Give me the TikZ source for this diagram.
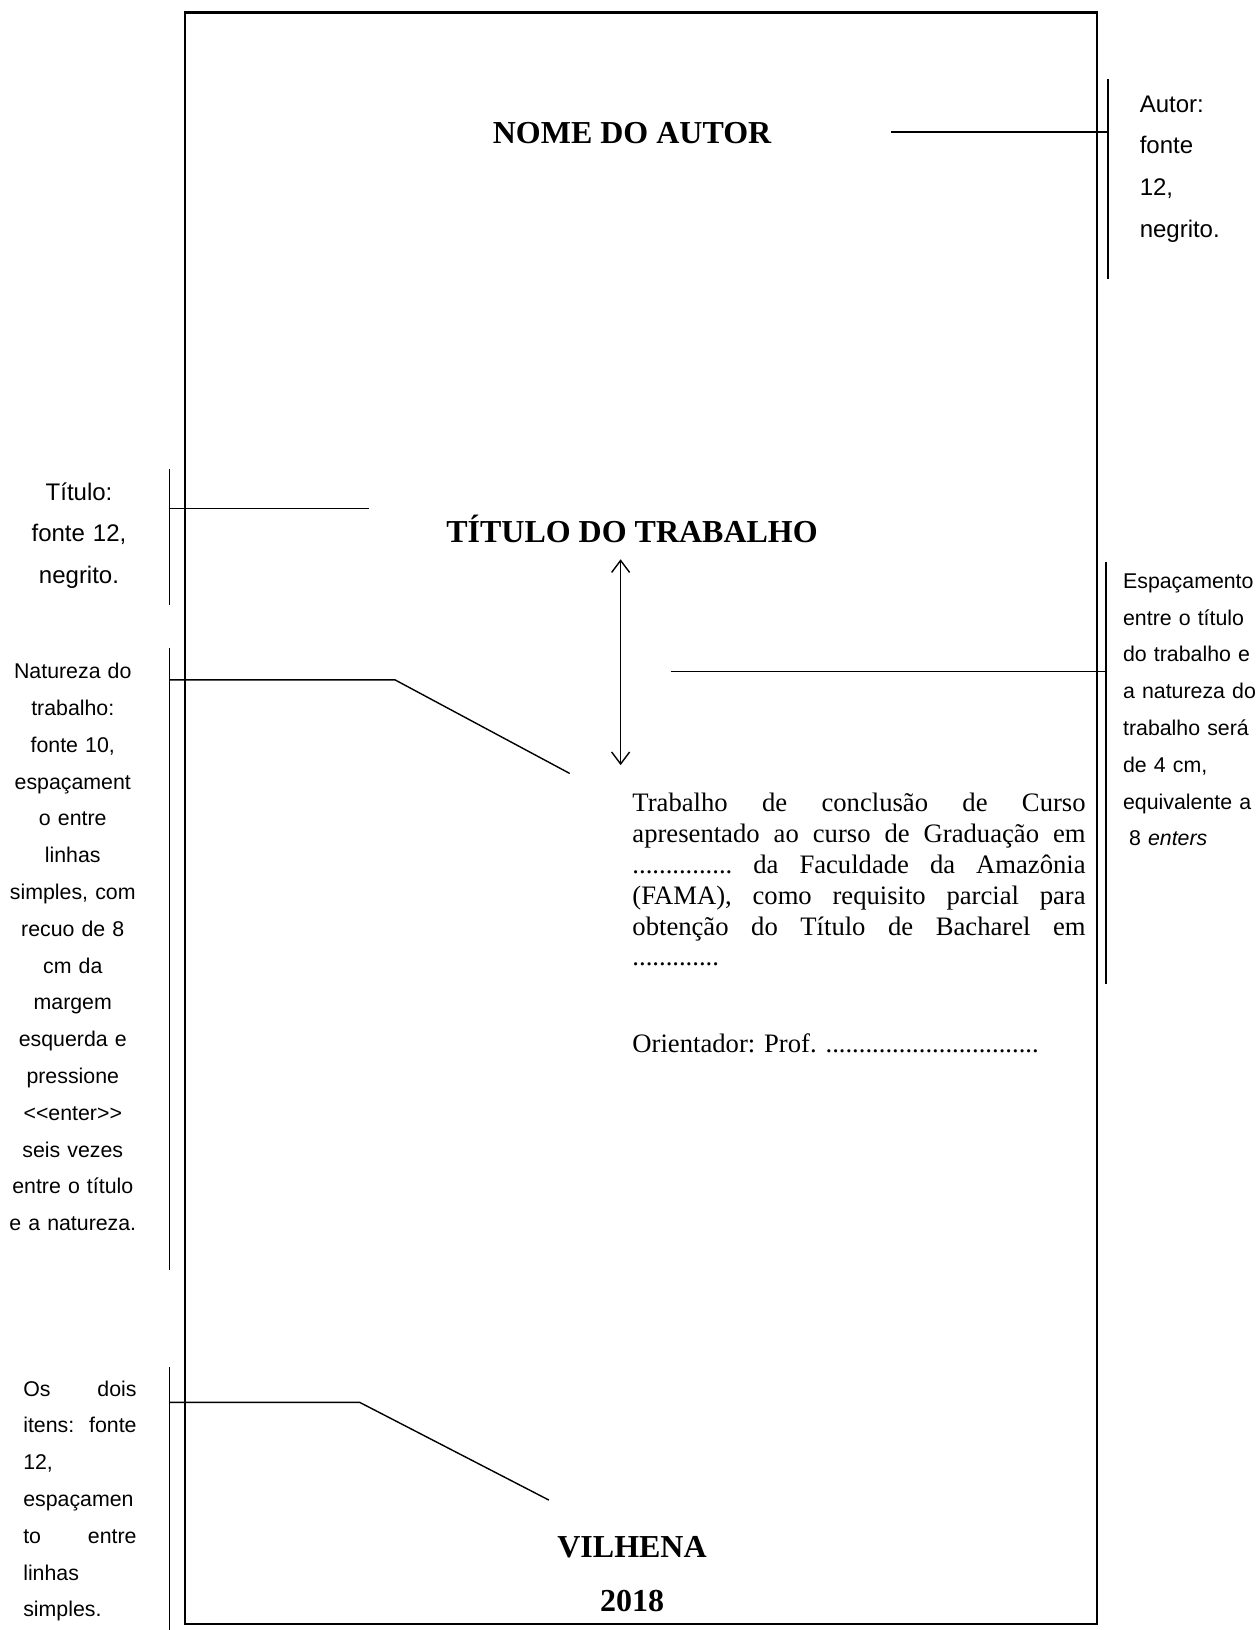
\documentclass[tikz,border=0pt]{standalone}
\usepackage{fontspec}
\setmainfont{Liberation Serif}
\setsansfont{Liberation Sans}
\usetikzlibrary{arrows.meta}
\newlength{\bodyw}\setlength{\bodyw}{226.7pt}
\newlength{\itensw}\setlength{\itensw}{56.7pt}
\begin{document}
\begin{tikzpicture}[x=0.52pt,y=-0.52pt,
  pageframe/.style={line width=1.1pt},
  bracket/.style={line width=0.9pt},
  leader/.style={line width=0.7pt},
  heading/.style={font=\fontsize{16}{19}\selectfont\bfseries, inner sep=0pt, anchor=base},
  note/.style={font=\sffamily\fontsize{10.67}{18.4}\selectfont, inner sep=0pt},
  bignote/.style={font=\sffamily\fontsize{12}{20.8}\selectfont, inner sep=0pt},
  body/.style={font=\fontsize{13.33}{15.4}\selectfont, inner sep=0pt, anchor=base west}]
\useasboundingbox (0,0) rectangle (1210,1568);
\draw[pageframe] (178,12) rectangle (1055,1562);

% headings
\node[heading] (autor) at (608,138) {NOME DO AUTOR};
\node[heading] (titulo) at (608,522) {TÍTULO DO TRABALHO};
\node[heading] (cidade) at (608,1498) {VILHENA};
\node[heading] (ano) at (608,1550) {2018};

% body
\node[body, text width=\bodyw, align=left] (natureza) at (608,781) {%
\makebox[\bodyw]{Trabalho\hfill de\hfill conclusão\hfill de\hfill Curso}\\
\makebox[\bodyw]{apresentado\hfill ao\hfill curso\hfill de\hfill Graduação\hfill em}\\
\makebox[\bodyw]{...............\hfill da\hfill Faculdade\hfill da\hfill Amazônia}\\
\makebox[\bodyw]{(FAMA),\hfill como\hfill requisito\hfill parcial\hfill para}\\
\makebox[\bodyw]{obtenção\hfill do\hfill Título\hfill de\hfill Bacharel\hfill em}\\
.............};
\node[body] (orient) at (608,1012) {Orientador: Prof. ................................};

% annotations
\node[bignote, text width=60pt, align=left, anchor=base west] (nAutor) at (1096,108)
  {Autor:\\fonte\\12,\\negrito.};
\node[bignote, text width=70pt, align=center, anchor=base] (nTitulo) at (76,481)
  {Título:\\fonte 12,\\negrito.};
\node[note, text width=70pt, align=center, anchor=base] (nNatureza) at (70,653)
  {Natureza do\\trabalho:\\fonte 10,\\espaçament\\o entre\\linhas\\simples, com\\recuo de 8\\cm da\\margem\\esquerda e\\pressione\\<\kern0pt<enter>\kern0pt>\\seis vezes\\entre o título\\e a natureza.};
\node[note, text width=70pt, align=left, anchor=base west] (nEspaco) at (1080,566)
  {Espaçamento\\entre o título\\do trabalho e\\a natureza do\\trabalho será\\de 4 cm,\\equivalente a\\\hspace*{3pt}8 \textit{enters}};
\node[note, text width=\itensw, align=left, anchor=base west] (nItens) at (22,1343)
  {\makebox[\itensw]{Os\hfill dois}\\\makebox[\itensw]{itens:\hfill fonte}\\12,\\espaçamen\\\makebox[\itensw]{to\hfill entre}\\linhas\\simples.};

% connector coordinates
\coordinate (aT) at (1066,76);  \coordinate (aB) at (1066,268);
\coordinate (aM) at (1066,127); \coordinate (aS) at (857,127);
\coordinate (tT) at (163,451);  \coordinate (tB) at (163,582);
\coordinate (tM) at (163,489);  \coordinate (tE) at (355,489);
\coordinate (nT) at (163,623);  \coordinate (nB) at (163,1222);
\coordinate (nM) at (163,654);  \coordinate (nK) at (380,654); \coordinate (nE) at (548,744);
\coordinate (eT) at (1064,541); \coordinate (eB) at (1064,947);
\coordinate (eM) at (1064,646); \coordinate (eS) at (645,646);
\coordinate (dT) at (597,538);  \coordinate (dB) at (597,736);
\coordinate (iT) at (163,1315); \coordinate (iB) at (163,1568);
\coordinate (iM) at (163,1349); \coordinate (iK) at (346,1349); \coordinate (iE) at (528,1443);

\draw[bracket] (aT) -- (aB);
\draw[leader] (aS) -- (aM);
\draw[bracket] (tT) -- (tB);
\draw[leader] (tM) -- (tE);
\draw[bracket] (nT) -- (nB);
\draw[leader] (nM) -- (nK) -- (nE);
\draw[bracket] (eT) -- (eB);
\draw[leader] (eS) -- (eM);
\draw[leader, {Straight Barb[length=6pt,width=9pt]}-{Straight Barb[length=6pt,width=9pt]}] (dT) -- (dB);
\draw[bracket] (iT) -- (iB);
\draw[leader] (iM) -- (iK) -- (iE);
\end{tikzpicture}
\end{document}
